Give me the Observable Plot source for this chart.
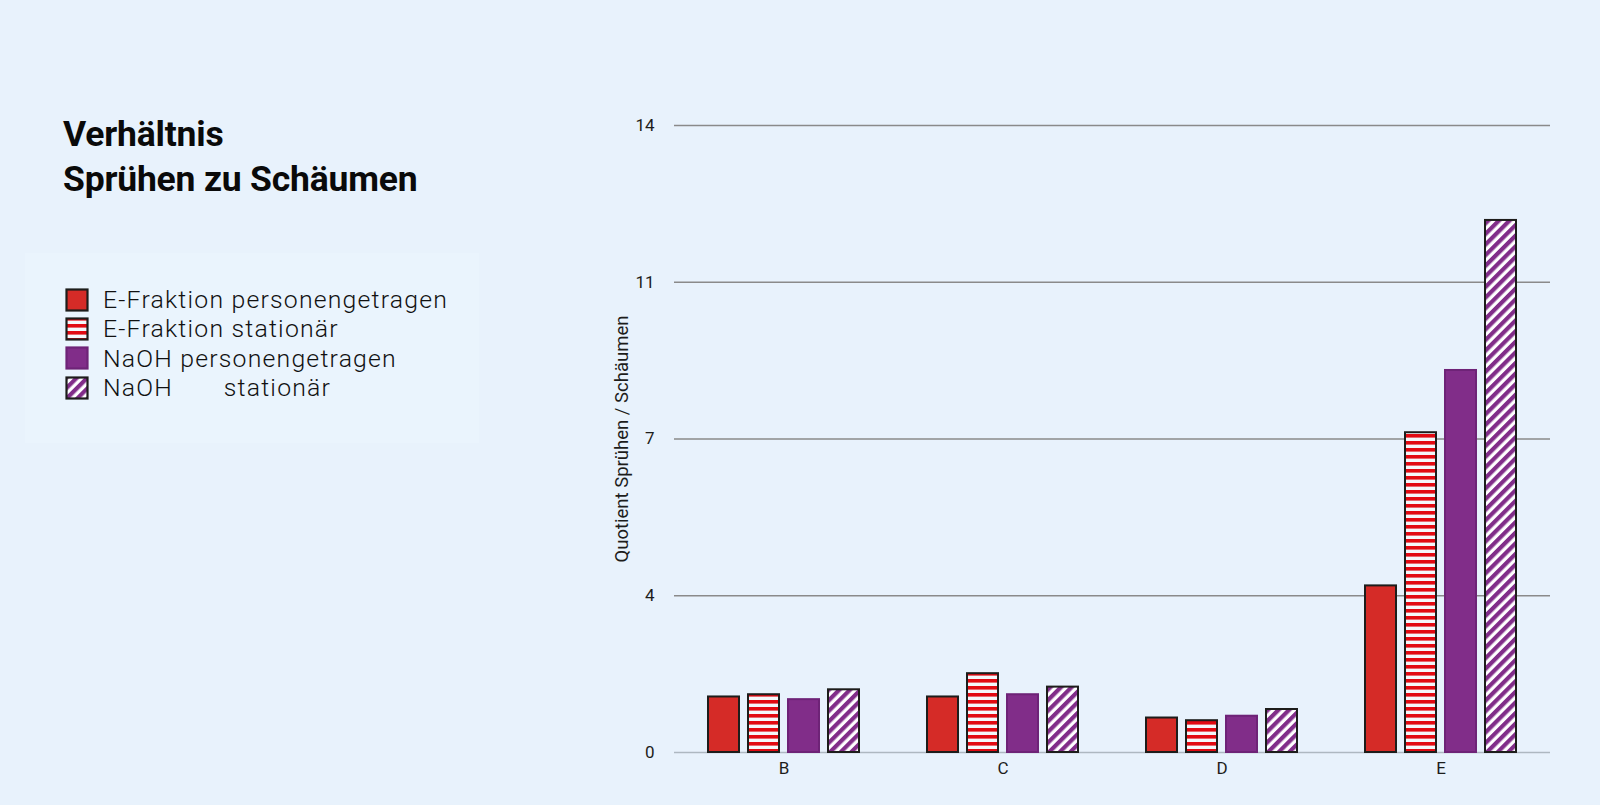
<!DOCTYPE html>
<html>
<head>
<meta charset="utf-8">
<script src="https://cdn.jsdelivr.net/npm/d3@7"></script>
<script src="https://cdn.jsdelivr.net/npm/@observablehq/plot@0.6"></script>
<style>
  html, body { margin: 0; padding: 0; }
  body { width: 1600px; height: 805px; background: #e8f2fc; overflow: hidden; font-family: Roboto, "Noto Sans", sans-serif; color: #1d1d1b; }
  #page { position: relative; width: 1600px; height: 805px; display: flex; }
  #left { position: relative; width: 560px; height: 805px; flex: none; }
  #title { position: absolute; left: 63px; top: 112px; font-family: Roboto, sans-serif; font-weight: 700; font-size: 35.5px; line-height: 45px; letter-spacing: -0.2px; color: #0a0a0a; }
  #legendBox { position: absolute; left: 25px; top: 253px; width: 454px; height: 190px; background: #eaf4fd; }
  .row { position: absolute; left: 40px; height: 29px; display: flex; align-items: center; }
  .row svg { flex: none; }
  .row span { margin-left: 14px; font-family: Roboto, sans-serif; font-weight: 300; font-size: 24.8px; letter-spacing: 1.2px; white-space: pre; line-height: 29px; color: #111; }
  #chart { flex: none; }
</style>
</head>
<body>
<svg width="0" height="0" style="position:absolute">
  <defs>
    <pattern id="patHoriz" patternUnits="userSpaceOnUse" width="7" height="7">
      <rect x="0" y="0" width="7" height="7" fill="#f4f7fa"></rect>
      <rect x="0" y="0" width="7" height="3.6" fill="#e20a12"></rect>
    </pattern>
    <pattern id="patDiag" patternUnits="userSpaceOnUse" width="7.5" height="7.5" patternTransform="rotate(45)">
      <rect x="0" y="0" width="7.5" height="7.5" fill="#ffffff"></rect>
      <rect x="0" y="0" width="4.2" height="7.5" fill="#812d89"></rect>
    </pattern>
  </defs>
</svg>
<div id="page">
  <div id="left">
    <div id="title">Verhältnis<br>Sprühen zu Schäumen</div>
    <div id="legendBox"></div>
  </div>
  <div id="chart"></div>
</div>
<script>
// ---- data ----
const categories = ["B", "C", "D", "E"];
const series = ["E-Fraktion personengetragen", "E-Fraktion stationär", "NaOH personengetragen", "NaOH stationär"];
const legendLabels = ["E-Fraktion personengetragen", "E-Fraktion stationär", "NaOH personengetragen", "NaOH       stationär"];
const eFraktionPersonengetragen = [1.24, 1.24, 0.77, 3.72];
const eFraktionStationaer = [1.29, 1.76, 0.71, 7.14];
const naohPersonengetragen = [1.18, 1.29, 0.81, 8.53];
const naohStationaer = [1.40, 1.46, 0.96, 11.88];
const yTicks = [0, 3.5, 7, 10.5, 14];
const yTickLabels = ["0", "4", "7", "11", "14"];
const yLabel = "Quotient Sprühen / Schäumen";

// ---- styles ----
const fills = ["#d52b27", "url(#patHoriz)", "#812d89", "url(#patDiag)"];
const strokes = ["#1d1d1b", "#1d1d1b", "#6e2377", "#1d1d1b"];

const valuesBySeries = [eFraktionPersonengetragen, eFraktionStationaer, naohPersonengetragen, naohStationaer];
const rows = [];
categories.forEach((c, i) => {
  series.forEach((s, k) => rows.push({category: c, series: s, value: valuesBySeries[k][i]}));
});

const chart = Plot.plot({
  width: 1040,
  height: 805,
  marginLeft: 113,
  marginRight: 49,
  marginTop: 125,
  marginBottom: 53,
  style: {background: "transparent", fontFamily: "Roboto, sans-serif", fontSize: "17px", color: "#1d1d1b", overflow: "visible"},
  fx: {domain: categories, padding: 0, label: null, axis: "bottom", tickSize: 0, tickPadding: 9},
  x: {domain: series, paddingInner: 0.22, paddingOuter: 0.833, axis: null},
  y: {domain: [0, 14], axis: null},
  marks: [
    Plot.ruleY(yTicks.slice(1), {stroke: "#8a8a8a", strokeWidth: 1.3}),
    Plot.ruleY([0], {stroke: "#aeb8c1", strokeWidth: 1.3}),
    Plot.axisY({
      ticks: yTicks,
      tickFormat: d => yTickLabels[yTicks.indexOf(d)],
      tickSize: 0,
      tickPadding: 20,
      label: null,
      fontSize: 17
    }),
    Plot.axisY({
      ticks: [],
      tickSize: 0,
      label: yLabel,
      labelAnchor: "center",
      labelArrow: "none",
      labelOffset: 60,
      fontSize: 18.5
    }),
    ...series.map((s, k) => Plot.barY(rows.filter(r => r.series === s), {
      fx: "category", x: "series", y: "value",
      fill: fills[k], stroke: strokes[k], strokeWidth: 2
    }))
  ]
});
document.getElementById("chart").appendChild(chart);

// ---- legend ----
const box = document.getElementById("legendBox");
legendLabels.forEach((label, k) => {
  const row = document.createElement("div");
  row.className = "row";
  row.style.top = (32 + k * 29.4) + "px";
  const ns = "http://www.w3.org/2000/svg";
  const sw = document.createElementNS(ns, "svg");
  sw.setAttribute("width", 24); sw.setAttribute("height", 24);
  const r = document.createElementNS(ns, "rect");
  r.setAttribute("x", 1.5); r.setAttribute("y", 1.5);
  r.setAttribute("width", 21); r.setAttribute("height", 21);
  r.setAttribute("fill", fills[k]);
  r.setAttribute("stroke", strokes[k]);
  r.setAttribute("stroke-width", 2.2);
  sw.appendChild(r);
  row.appendChild(sw);
  const t = document.createElement("span");
  t.textContent = label;
  row.appendChild(t);
  box.appendChild(row);
});
</script>
</body>
</html>
